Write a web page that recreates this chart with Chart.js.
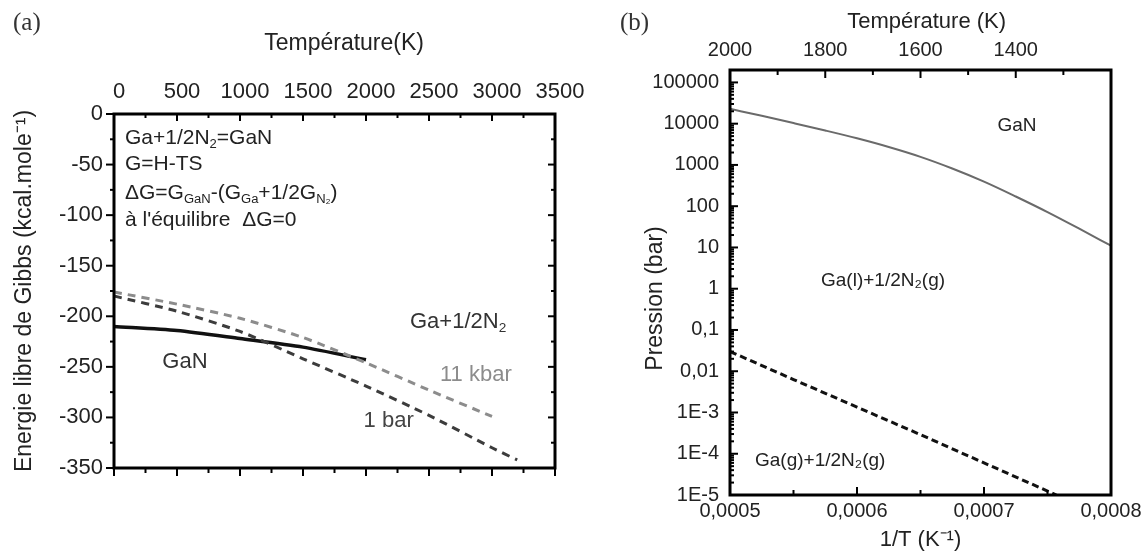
<!DOCTYPE html>
<html>
<head>
<meta charset="utf-8">
<script src="https://cdn.jsdelivr.net/npm/chart.js@4.4.1/dist/chart.umd.min.js"></script>
<style>
  html, body { margin: 0; padding: 0; background: #fff; }
  #wrap { position: relative; width: 1146px; height: 551px; overflow: hidden; }
  canvas { position: absolute; top: 0; }
  #ca { left: 0; }
  #cb { left: 600px; }
  .tag { position: absolute; font: 25px 'Liberation Serif', 'Times New Roman', serif; color: #333; }
</style>
</head>
<body>
<div id="wrap">
  <canvas id="ca" width="600" height="551"></canvas>
  <canvas id="cb" width="546" height="551"></canvas>
  <span class="tag" style="left:13px;top:8px">(a)</span>
  <span class="tag" style="left:620px;top:8px">(b)</span>
</div>
<script>
// (a) Gibbs free energy vs temperature
const tempGaN = [0, 500, 1000, 1500, 2000]
const gGaN = [-210, -214, -222, -230.5, -243]
const temp11kbar = [0, 500, 1000, 1500, 2000, 2500, 3000]
const g11kbar = [-176, -188, -202, -221, -246, -273, -299]
const temp1bar = [0, 500, 1000, 1500, 2000, 2500, 3000, 3200]
const g1bar = [-180, -195, -215, -242, -269, -298, -330, -342]
const tTicksA = [0, 500, 1000, 1500, 2000, 2500, 3000, 3500]
const gTicksA = [0, -50, -100, -150, -200, -250, -300, -350]

// (b) pressure vs 1/T
const invT_GaN = [0.0005, 0.000525, 0.00055, 0.000575, 0.0006, 0.000625, 0.00065, 0.000675, 0.0007, 0.000725, 0.00075, 0.000775, 0.0008]
const p_GaN = [22900, 15500, 10350, 6840, 4420, 2720, 1570, 820, 394, 172, 72, 28.5, 11]
const invT_Ga = [0.0005, 0.00055, 0.0006, 0.00065, 0.0007, 0.000757]
const p_Ga = [0.03, 0.0063, 0.00135, 0.00029, 0.00006, 0.00001]
const invTTicks = [0.0005, 0.0006, 0.0007, 0.0008]
const invTLabels = ['0,0005', '0,0006', '0,0007', '0,0008']
const tTicksB = [2000, 1800, 1600, 1400]
const pTicks = [1e-5, 1e-4, 1e-3, 1e-2, 1e-1, 1, 10, 100, 1000, 10000, 100000]
const pLabels = ['1E-5', '1E-4', '1E-3', '0,01', '0,1', '1', '10', '100', '1000', '10000', '100000']

const TEXT = '#222'
const FAMILY = "'Liberation Sans', Arial, sans-serif"
Chart.defaults.font.family = FAMILY
Chart.defaults.color = TEXT

const pts = (xs, ys) => xs.map((x, i) => ({ x: x, y: ys[i] }))
const steps = (from, to, step) => {
    const out = []
    for (let v = from; v <= to + step / 1000; v += step) out.push(+v.toFixed(8))
    return out
}

// text with _{sub} parts
function drawRich(ctx, text, x, y, size, color, align) {
    const parts = text.split(/_\{([^}]*)\}/)
    const segs = parts.map((t, i) => {
        const s = i % 2 ? size * 0.62 : size
        ctx.font = s + 'px ' + FAMILY
        return { t: t, s: s, dy: i % 2 ? size * 0.3 : 0, w: ctx.measureText(t).width }
    })
    const total = segs.reduce((a, s) => a + s.w, 0)
    let cx = align === 'center' ? x - total / 2 : x
    ctx.fillStyle = color
    ctx.textAlign = 'left'
    ctx.textBaseline = 'middle'
    segs.forEach(s => {
        ctx.font = s.s + 'px ' + FAMILY
        ctx.fillText(s.t, cx, y + s.dy)
        cx += s.w
    })
}

// frame, tick marks and in-plot labels
function decor(marks, notes) {
    return {
        id: 'decor',
        afterDatasetsDraw(chart) {
            const { ctx, chartArea: ca } = chart
            ctx.save()
            ctx.strokeStyle = '#000'
            ctx.lineWidth = 2
            marks.forEach(m => {
                const scale = chart.scales[m.scale]
                const horiz = m.side === 'top' || m.side === 'bottom'
                const d = (m.side === 'top' || m.side === 'left') === (m.dir === 'in') ? 1 : -1
                const edge = ca[m.side]
                ;[[m.major, m.majorLen], [m.minor, m.minorLen]].forEach(([vals, len]) => {
                    vals.forEach(v => {
                        const p = scale.getPixelForValue(v)
                        ctx.beginPath()
                        if (horiz) { ctx.moveTo(p, edge); ctx.lineTo(p, edge + d * len) }
                        else { ctx.moveTo(edge, p); ctx.lineTo(edge + d * len, p) }
                        ctx.stroke()
                    })
                })
            })
            ctx.lineWidth = 3
            ctx.strokeRect(ca.left, ca.top, ca.width, ca.height)
            notes.forEach(n => {
                const x = chart.scales[n.xScale || 'x'].getPixelForValue(n.x)
                const y = chart.scales.y.getPixelForValue(n.y)
                drawRich(ctx, n.text, x, y, n.size, n.color || TEXT, n.align || 'left')
            })
            ctx.restore()
        }
    }
}

const common = {
    responsive: false,
    animation: false,
    events: [],
    plugins: { legend: { display: false }, tooltip: { enabled: false } },
    elements: { point: { radius: 0 } }
}
const noGrid = { display: false, drawTicks: false }

// ---------- panel (a)
const minorT = steps(250, 3250, 500)
const minorG = steps(-325, -25, 50)
new Chart(document.getElementById('ca'), {
    type: 'line',
    data: {
        datasets: [
            { data: pts(temp11kbar, g11kbar), borderColor: '#8c8c8c', borderWidth: 3, borderDash: [8, 6], tension: 0.25 },
            { data: pts(temp1bar, g1bar), borderColor: '#3c3c3c', borderWidth: 3, borderDash: [8, 6], tension: 0.25 },
            { data: pts(tempGaN, gGaN), borderColor: '#111', borderWidth: 3.5, tension: 0.25 }
        ]
    },
    options: {
        ...common,
        layout: { padding: { left: 0, right: 45, top: 0, bottom: 83 } },
        scales: {
            x: {
                type: 'linear', position: 'top', min: 0, max: 3500,
                afterBuildTicks: s => { s.ticks = tTicksA.map(v => ({ value: v })) },
                afterFit: s => { s.height = 114 },
                ticks: { font: { size: 22 }, padding: 9, labelOffset: 5, maxRotation: 0, autoSkip: false, callback: v => String(v) },
                grid: noGrid, border: { display: false },
                title: { display: true, text: '   Température(K)', font: { size: 23, lineHeight: 1 }, padding: { top: 32, bottom: 0 } }
            },
            y: {
                type: 'linear', min: -350, max: 0,
                afterBuildTicks: s => { s.ticks = gTicksA.map(v => ({ value: v })) },
                afterFit: s => { s.width = 114 },
                ticks: { font: { size: 22 }, padding: 11, autoSkip: false, callback: v => String(v) },
                grid: noGrid, border: { display: false },
                title: { display: true, text: 'Energie libre de Gibbs (kcal.mole⁻¹)', font: { size: 23, lineHeight: 1 }, padding: { top: 13, bottom: 0 } }
            }
        }
    },
    plugins: [decor([
        { scale: 'x', side: 'top', dir: 'in', major: tTicksA, majorLen: 7, minor: minorT, minorLen: 4 },
        { scale: 'x', side: 'bottom', dir: 'out', major: tTicksA, majorLen: 8, minor: minorT, minorLen: 5 },
        { scale: 'y', side: 'left', dir: 'out', major: gTicksA, majorLen: 8, minor: minorG, minorLen: 4 },
        { scale: 'y', side: 'right', dir: 'in', major: gTicksA, majorLen: 7, minor: minorG, minorLen: 4 }
    ], [
        { x: 87, y: -23.7, text: 'Ga+1/2N_{2}=GaN', size: 21 },
        { x: 87, y: -49.4, text: 'G=H-TS', size: 21 },
        { x: 87, y: -78.1, text: 'ΔG=G_{GaN}-(G_{Ga}+1/2G_{N₂})', size: 21 },
        { x: 87, y: -104.8, text: 'à l\'équilibre  ΔG=0', size: 21 },
        { x: 563, y: -245.2, text: 'GaN', size: 22, align: 'center', color: '#333' },
        { x: 2349, y: -205.6, text: 'Ga+1/2N_{2}', size: 22, color: '#333' },
        { x: 2587, y: -258, text: '11 kbar', size: 22, color: '#8c8c8c' },
        { x: 1981, y: -303.5, text: '1 bar', size: 22, color: '#444' }
    ])]
})

// ---------- panel (b)
const minorInvT = [0.00055, 0.00065, 0.00075]
const minorTB = [1900, 1700, 1500, 1300]
const minorP = []
pTicks.slice(0, -1).forEach(d => { for (let k = 2; k <= 9; k++) minorP.push(d * k) })
pTicks.slice(-1).forEach(d => minorP.push(d * 2))
new Chart(document.getElementById('cb'), {
    type: 'line',
    data: {
        datasets: [
            { data: pts(invT_GaN, p_GaN), borderColor: '#6a6a6a', borderWidth: 2, cubicInterpolationMode: 'monotone' },
            { data: pts(invT_Ga, p_Ga), borderColor: '#111', borderWidth: 3, borderDash: [7, 4] }
        ]
    },
    options: {
        ...common,
        layout: { padding: { left: 0, right: 35, top: 0, bottom: 0 } },
        scales: {
            x: {
                type: 'linear', position: 'bottom', min: 0.0005, max: 0.0008,
                afterBuildTicks: s => { s.ticks = invTTicks.map(v => ({ value: v })) },
                afterFit: s => { s.height = 56 },
                ticks: { font: { size: 20 }, padding: 4, maxRotation: 0, autoSkip: false, callback: (v, i) => invTLabels[i] },
                grid: noGrid, border: { display: false },
                title: { display: true, text: '1/T (K⁻¹)', font: { size: 22, lineHeight: 1 }, padding: { top: 0, bottom: 0 } }
            },
            x2: {
                type: 'linear', position: 'top', min: 1200, max: 2000, reverse: true,
                afterBuildTicks: s => { s.ticks = tTicksB.map(v => ({ value: v })) },
                afterFit: s => { s.height = 70 },
                ticks: { font: { size: 20 }, padding: 8, maxRotation: 0, autoSkip: false, callback: v => String(v) },
                grid: noGrid, border: { display: false },
                title: { display: true, text: '  Température (K)', font: { size: 22, lineHeight: 1 }, padding: { top: 11, bottom: 0 } }
            },
            y: {
                type: 'logarithmic', min: 1e-5, max: 2e5,
                afterBuildTicks: s => { s.ticks = pTicks.map(v => ({ value: v })) },
                afterFit: s => { s.width = 130 },
                ticks: { font: { size: 20 }, padding: 11, autoSkip: false, callback: (v, i) => pLabels[i] },
                grid: noGrid, border: { display: false },
                title: { display: true, text: 'Pression (bar)     ', font: { size: 23, lineHeight: 1 }, padding: { top: 44, bottom: 0 } }
            }
        }
    },
    plugins: [decor([
        { scale: 'y', side: 'left', dir: 'in', major: pTicks, majorLen: 8, minor: minorP, minorLen: 4 },
        { scale: 'x', side: 'bottom', dir: 'in', major: invTTicks, majorLen: 8, minor: minorInvT, minorLen: 5 },
        { scale: 'x2', side: 'top', dir: 'in', major: tTicksB, majorLen: 8, minor: minorTB, minorLen: 5 }
    ], [
        { x: 0.000726, y: 9100, text: 'GaN', size: 19, align: 'center' },
        { x: 0.0006205, y: 1.6, text: 'Ga(l)+1/2N₂(g)', size: 19, align: 'center' },
        { x: 0.000571, y: 6.6e-5, text: 'Ga(g)+1/2N₂(g)', size: 19, align: 'center' }
    ])]
})
</script>
</body>
</html>
